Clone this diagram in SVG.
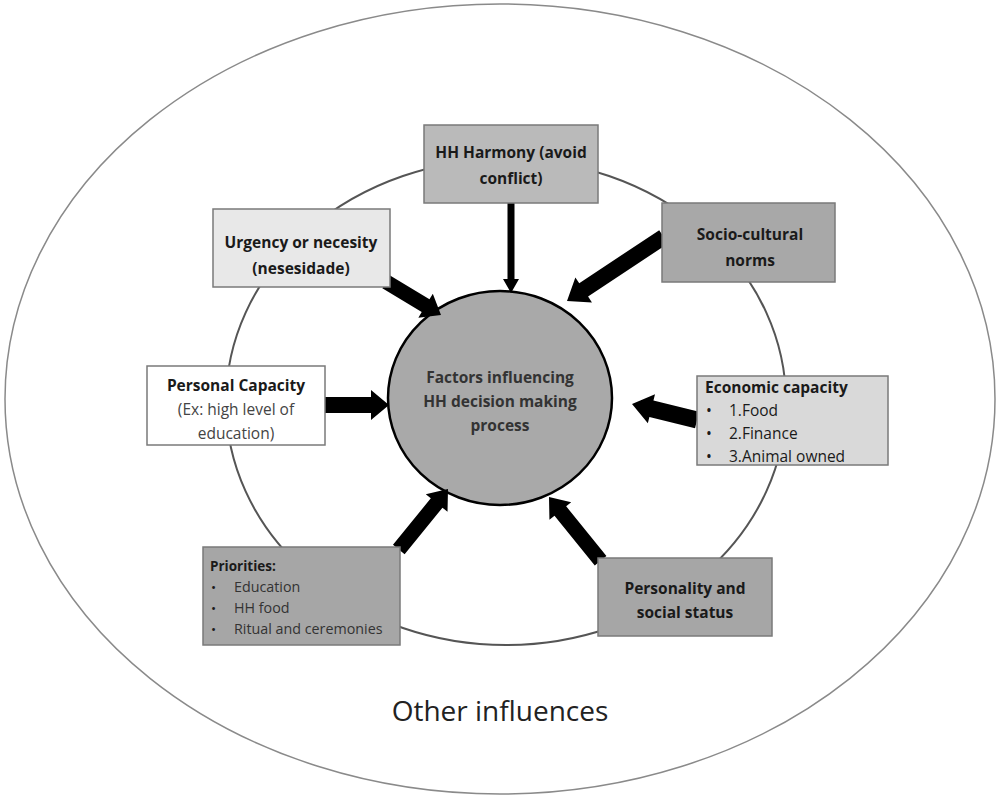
<svg xmlns="http://www.w3.org/2000/svg" width="1000" height="799" viewBox="0 0 1000 799">
<style>
.box{stroke:#7a7a7a;stroke-width:1.5}
.t{font-family:"Open Sans","Liberation Sans",sans-serif;font-size:15.5px;fill:#1a1a1a}
.b{font-weight:bold}
.c{text-anchor:middle}
.arr{fill:#000}
</style>
<rect width="1000" height="799" fill="#fff"/>
<ellipse cx="500" cy="399" rx="495" ry="395" fill="none" stroke="#8a8a8a" stroke-width="1.5"/>
<ellipse cx="506" cy="402" rx="280" ry="243" fill="none" stroke="#555" stroke-width="2"/>
<g id="center">
<ellipse cx="500" cy="398" rx="112" ry="107" fill="#a9a9a9" stroke="#000" stroke-width="2.5"/>
<text class="t b c" x="500" y="383" style="fill:#333">Factors influencing</text>
<text class="t b c" x="500" y="407" style="fill:#333">HH decision making</text>
<text class="t b c" x="500" y="431" style="fill:#333">process</text>
</g>
<g id="connectors">
<path class="arr" transform="translate(511,293) rotate(90)" d="M-90,-3.5 L-14,-3.5 L-14,-8 L0,0 L-14,8 L-14,3.5 L-90,3.5 Z"/>
<path class="arr" transform="translate(441,315) rotate(31.1)" d="M-64,-7.5 L-18,-7.5 L-18,-14 L0,0 L-18,14 L-18,7.5 L-64,7.5 Z"/>
<path class="arr" transform="translate(567,301) rotate(146.4)" d="M-116,-8 L-20,-8 L-20,-15 L0,0 L-20,15 L-20,8 L-116,8 Z"/>
<path class="arr" transform="translate(389,405) rotate(0)" d="M-64,-8 L-18,-8 L-18,-15 L0,0 L-18,15 L-18,8 L-64,8 Z"/>
<path class="arr" transform="translate(632,404) rotate(193.8)" d="M-67,-8.5 L-20,-8.5 L-20,-15 L0,0 L-20,15 L-20,8.5 L-67,8.5 Z"/>
<path class="arr" transform="translate(448,489) rotate(-50.9)" d="M-78,-7.5 L-18,-7.5 L-18,-14 L0,0 L-18,14 L-18,7.5 L-78,7.5 Z"/>
<path class="arr" transform="translate(549,497) rotate(231)" d="M-82,-7.5 L-18,-7.5 L-18,-14 L0,0 L-18,14 L-18,7.5 L-82,7.5 Z"/>
</g>
<g id="harmony">
<rect class="box" x="424" y="125" width="174" height="78" fill="#bababa"/>
<text class="t b c" x="511" y="158">HH Harmony (avoid</text>
<text class="t b c" x="511" y="184">conflict)</text>
</g>
<g id="urgency">
<rect class="box" x="213" y="209" width="177" height="78" fill="#e8e8e8"/>
<text class="t b c" x="301" y="248">Urgency or necesity</text>
<text class="t b c" x="301" y="274">(nesesidade)</text>
</g>
<g id="personal">
<rect class="box" x="147" y="366" width="178" height="79" fill="#fff"/>
<text class="t b c" x="236" y="391">Personal Capacity</text>
<text class="t c" x="236" y="415" style="fill:#444">(Ex: high level of</text>
<text class="t c" x="236" y="439" style="fill:#444">education)</text>
</g>
<g id="socio">
<rect class="box" x="662" y="203" width="173" height="79" fill="#a8a8a8"/>
<text class="t b c" x="750" y="240">Socio-cultural</text>
<text class="t b c" x="750" y="266">norms</text>
</g>
<g id="economic">
<rect class="box" x="697" y="376" width="191" height="89" fill="#d9d9d9"/>
<text class="t b" x="705" y="393">Economic capacity</text>
<text class="t" x="706" y="416">•</text><text class="t" x="729" y="416">1.Food</text>
<text class="t" x="706" y="439">•</text><text class="t" x="729" y="439">2.Finance</text>
<text class="t" x="706" y="462">•</text><text class="t" x="729" y="462">3.Animal owned</text>
</g>
<g id="priorities">
<rect class="box" x="203" y="547" width="197" height="98" fill="#a6a6a6"/>
<text class="t b" x="210" y="571" style="font-size:13.5px">Priorities:</text>
<text class="t" x="211" y="592" style="font-size:13.5px">•</text><text class="t" x="234" y="592" style="font-size:14.3px;fill:#333">Education</text>
<text class="t" x="211" y="613" style="font-size:13.5px">•</text><text class="t" x="234" y="613" style="font-size:14.3px;fill:#333">HH food</text>
<text class="t" x="211" y="634" style="font-size:13.5px">•</text><text class="t" x="234" y="634" style="font-size:14.3px;fill:#333">Ritual and ceremonies</text>
</g>
<g id="personality">
<rect class="box" x="598" y="558" width="174" height="78" fill="#a6a6a6"/>
<text class="t b c" x="685" y="594">Personality and</text>
<text class="t b c" x="685" y="618">social status</text>
</g>
<text x="500" y="721" text-anchor="middle" style="font-family:'Open Sans','Liberation Sans',sans-serif;font-size:28px;fill:#222">Other influences</text>
</svg>
